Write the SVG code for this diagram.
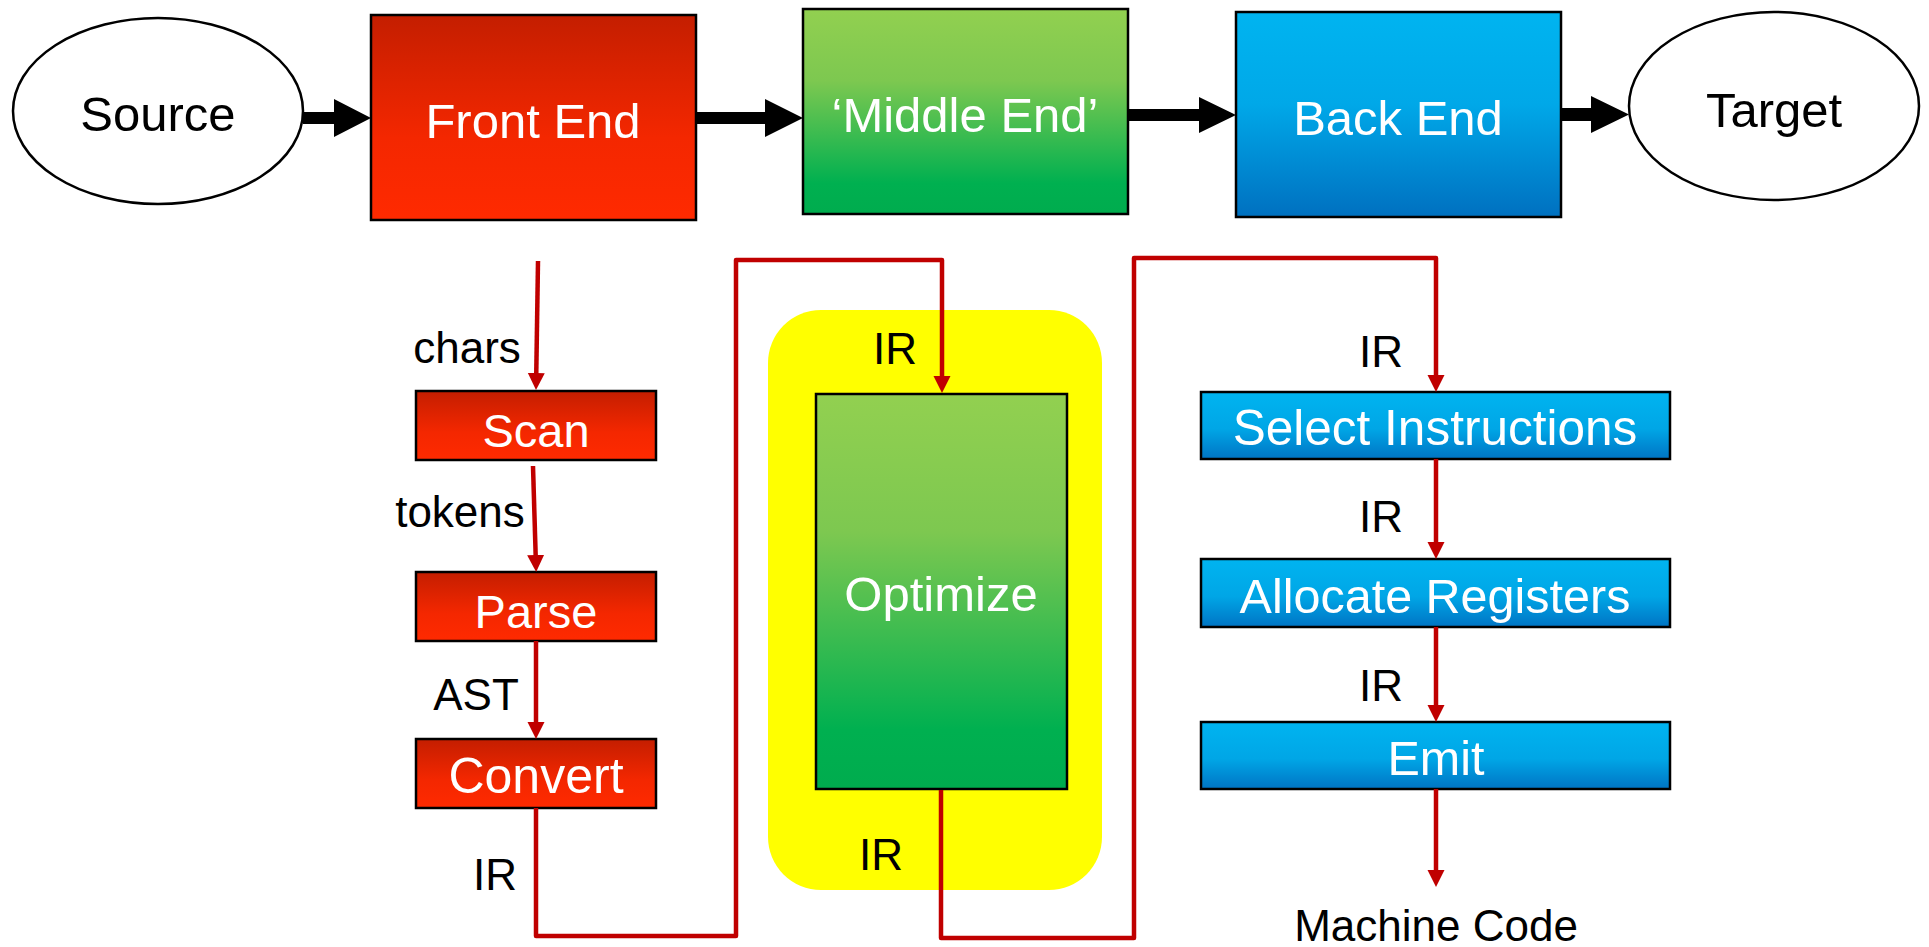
<svg xmlns="http://www.w3.org/2000/svg" width="1929" height="947" viewBox="0 0 1929 947">
<defs>
  <linearGradient id="gRed" x1="0" y1="0" x2="0" y2="1">
    <stop offset="0" stop-color="#C41E00"/>
    <stop offset="0.6" stop-color="#F42700"/>
    <stop offset="1" stop-color="#FF2A00"/>
  </linearGradient>
  <linearGradient id="gGreen" x1="0" y1="0" x2="0" y2="1">
    <stop offset="0" stop-color="#92D050"/>
    <stop offset="0.35" stop-color="#7DC850"/>
    <stop offset="0.85" stop-color="#00B050"/>
    <stop offset="1" stop-color="#00AC4E"/>
  </linearGradient>
  <linearGradient id="gBlue" x1="0" y1="0" x2="0" y2="1">
    <stop offset="0" stop-color="#00B4F0"/>
    <stop offset="0.45" stop-color="#00A8E8"/>
    <stop offset="1" stop-color="#0070C0"/>
  </linearGradient>
  <linearGradient id="gBlueS" x1="0" y1="0" x2="0" y2="1">
    <stop offset="0" stop-color="#00B4F0"/>
    <stop offset="0.55" stop-color="#00A6E6"/>
    <stop offset="1" stop-color="#0074C4"/>
  </linearGradient>
  <marker id="ah" markerUnits="userSpaceOnUse" markerWidth="18" markerHeight="18" refX="5" refY="8.5" orient="auto">
    <path d="M0,0 L17,8.5 L0,17 z" fill="#C00000"/>
  </marker>
  <style>
    .box { stroke: #000; stroke-width: 2.5; }
    .ell { fill: #fff; stroke: #000; stroke-width: 2.5; }
    .wt { fill: #fff; font-family: "Liberation Sans", Arial, sans-serif; text-anchor: middle; }
    .bt { fill: #000; font-family: "Liberation Sans", Arial, sans-serif; text-anchor: middle; }
    .big { font-size: 49px; }
    .mid { font-size: 47px; }
    .lab { font-size: 44px; }
    .red { fill: none; stroke: #C00000; stroke-width: 4.5; stroke-linejoin: round; }
    .blk { fill: #000; }
  </style>
</defs>

<rect width="1929" height="947" fill="#fff"/>

<g id="optimizer-region">
  <rect x="768" y="310" width="334" height="580" rx="53" ry="53" fill="#FFFF00"/>
</g>

<g id="source">
  <ellipse class="ell" cx="158" cy="111" rx="145" ry="93"/>
  <text class="bt big" x="158" y="131">Source</text>
</g>
<g id="front-end">
  <rect class="box" x="371" y="15" width="325" height="205" fill="url(#gRed)"/>
  <text class="wt big" x="533" y="138">Front End</text>
</g>
<g id="middle-end">
  <rect class="box" x="803" y="9" width="325" height="205" fill="url(#gGreen)"/>
  <text class="wt big" x="965" y="132">‘Middle End’</text>
</g>
<g id="back-end">
  <rect class="box" x="1236" y="12" width="325" height="205" fill="url(#gBlue)"/>
  <text class="wt big" x="1398" y="135">Back End</text>
</g>
<g id="target">
  <ellipse class="ell" cx="1774" cy="106" rx="145" ry="94"/>
  <text class="bt big" x="1774" y="127">Target</text>
</g>

<g id="scan">
  <rect class="box" x="416" y="391" width="240" height="69" fill="url(#gRed)"/>
  <text class="wt mid" x="536" y="447">Scan</text>
</g>
<g id="parse">
  <rect class="box" x="416" y="572" width="240" height="69" fill="url(#gRed)"/>
  <text class="wt mid" x="536" y="628">Parse</text>
</g>
<g id="convert">
  <rect class="box" x="416" y="739" width="240" height="69" fill="url(#gRed)"/>
  <text class="wt mid" x="536" y="793" style="font-size:50px">Convert</text>
</g>
<g id="optimize">
  <rect class="box" x="816" y="394" width="251" height="395" fill="url(#gGreen)"/>
  <text class="wt big" x="941" y="611">Optimize</text>
</g>
<g id="select-instructions">
  <rect class="box" x="1201" y="392" width="469" height="67" fill="url(#gBlueS)"/>
  <text class="wt mid" x="1435" y="445" style="font-size:49.5px">Select Instructions</text>
</g>
<g id="allocate-registers">
  <rect class="box" x="1201" y="559" width="469" height="68" fill="url(#gBlueS)"/>
  <text class="wt mid" x="1435" y="613" style="font-size:48.5px">Allocate Registers</text>
</g>
<g id="emit">
  <rect class="box" x="1201" y="722" width="469" height="67" fill="url(#gBlueS)"/>
  <text class="wt mid" x="1436" y="775" style="font-size:48.5px">Emit</text>
</g>

<g id="connectors">
  <path class="blk" d="M303,112 H334 V99 L371,118 L334,137 V124 H303 z"/>
  <path class="blk" d="M697,112 H765 V99 L803,118 L765,137 V124 H697 z"/>
  <path class="blk" d="M1129,109 H1199 V97 L1236,115 L1199,133 V121 H1129 z"/>
  <path class="blk" d="M1562,108 H1591 V96 L1629,114.5 L1591,133 V121 H1562 z"/>

  <path class="red" d="M538,261 L536.2,378" marker-end="url(#ah)"/>
  <path class="red" d="M533,466 L535.8,560" marker-end="url(#ah)"/>
  <path class="red" d="M536,641 L536,727" marker-end="url(#ah)"/>
  <path class="red" d="M536,808 V936 H736 V260 H942 V381" marker-end="url(#ah)"/>
  <path class="red" d="M941,790 V938 H1134 V258 H1436 V380" marker-end="url(#ah)"/>
  <path class="red" d="M1436,459 V547" marker-end="url(#ah)"/>
  <path class="red" d="M1436,627 V710" marker-end="url(#ah)"/>
  <path class="red" d="M1436,789 V875" marker-end="url(#ah)"/>
</g>

<g id="labels">
  <text class="bt lab" x="467" y="363">chars</text>
  <text class="bt lab" x="460" y="527">tokens</text>
  <text class="bt lab" x="476" y="710">AST</text>
  <text class="bt lab" x="495" y="890">IR</text>
  <text class="bt lab" x="895" y="364">IR</text>
  <text class="bt lab" x="881" y="870">IR</text>
  <text class="bt lab" x="1381" y="367">IR</text>
  <text class="bt lab" x="1381" y="532">IR</text>
  <text class="bt lab" x="1381" y="701">IR</text>
  <text class="bt lab" x="1436" y="941">Machine Code</text>
</g>
</svg>
